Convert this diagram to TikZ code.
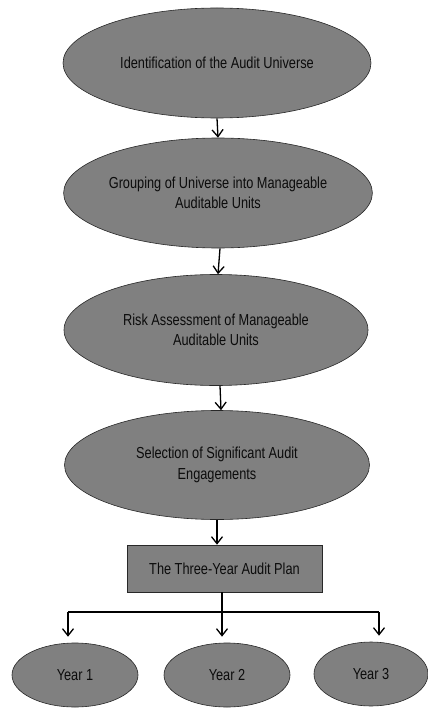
\documentclass[tikz,border=0pt]{standalone}
\usepackage{fontspec}
\usetikzlibrary{shapes.geometric,arrows.meta}
\newfontfamily\labfont[FakeStretch=0.8]{Liberation Sans}
\definecolor{stepfill}{RGB}{128,128,128}
\definecolor{stepline}{RGB}{40,40,40}
\definecolor{steptext}{RGB}{12,12,12}
\begin{document}
\begin{tikzpicture}[x=1bp,y=-1bp,
  stage/.style={ellipse,draw=stepline,fill=stepfill,line width=0.6bp,inner sep=0pt,
    text=steptext,align=center,font=\labfont\fontsize{16}{20.5}\selectfont},
  bigstage/.style={stage,minimum width=308bp,minimum height=110bp},
  yearstage/.style={stage,minimum height=64bp},
  planbox/.style={rectangle,draw=stepline,fill=stepfill,line width=0.6bp,inner sep=0pt,
    minimum width=195bp,minimum height=47bp,text=steptext,
    font=\labfont\fontsize{16}{20.5}\selectfont},
  arr/.style={line width=1.3bp,-{Straight Barb[length=7bp,width=11bp,line width=1.3bp]}},
  link/.style={line width=1.3bp}]
\useasboundingbox (0,0) rectangle (427,708);

% main chain of planning steps
\node[bigstage] (e1) at (217,63) {Identification of the Audit Universe};
\node[bigstage] (e2) at (218,193) {Grouping of Universe into Manageable\\Auditable Units};
\node[bigstage,minimum width=304bp,minimum height=111bp] (e3) at (216,330) {Risk Assessment of Manageable\\Auditable Units};
\node[bigstage,minimum width=305bp,minimum height=109bp] (e4) at (217,465) {Selection of Significant Audit\\Engagements};
\node[planbox] (plan) at (224.5,568.5) {The Three-Year Audit Plan};

% the three plan years
\node[yearstage,minimum width=126bp] (y1) at (75,675) {Year 1};
\node[yearstage,minimum width=126bp] (y2) at (227,675) {Year 2};
\node[yearstage,minimum width=114bp] (y3) at (371,674) {Year 3};

% arrows between the steps
\draw[arr] (e1.south) -- (e2.north);
\draw[arr] ([xshift=2bp]e2.south) -- ([xshift=2bp]e3.north);
\draw[arr] ([xshift=4bp]e3.south) -- ([xshift=4bp]e4.north);
\draw[arr] (e4.south) -- (e4.south |- plan.north);

% branching to the years
\coordinate (bar) at (222,612);
\coordinate (bl) at (68,612);
\coordinate (br) at (379,612);
\draw[link] (plan.south -| bar) -- (bar);
\draw[link] (bl) -- (br);
\draw[arr,shorten >=6bp] (bl) -- (bl |- y1.north);
\draw[arr,shorten >=6bp] (bar) -- (bar |- y2.north);
\draw[arr,shorten >=6bp] (br) -- (br |- y3.north);
\end{tikzpicture}
\end{document}
